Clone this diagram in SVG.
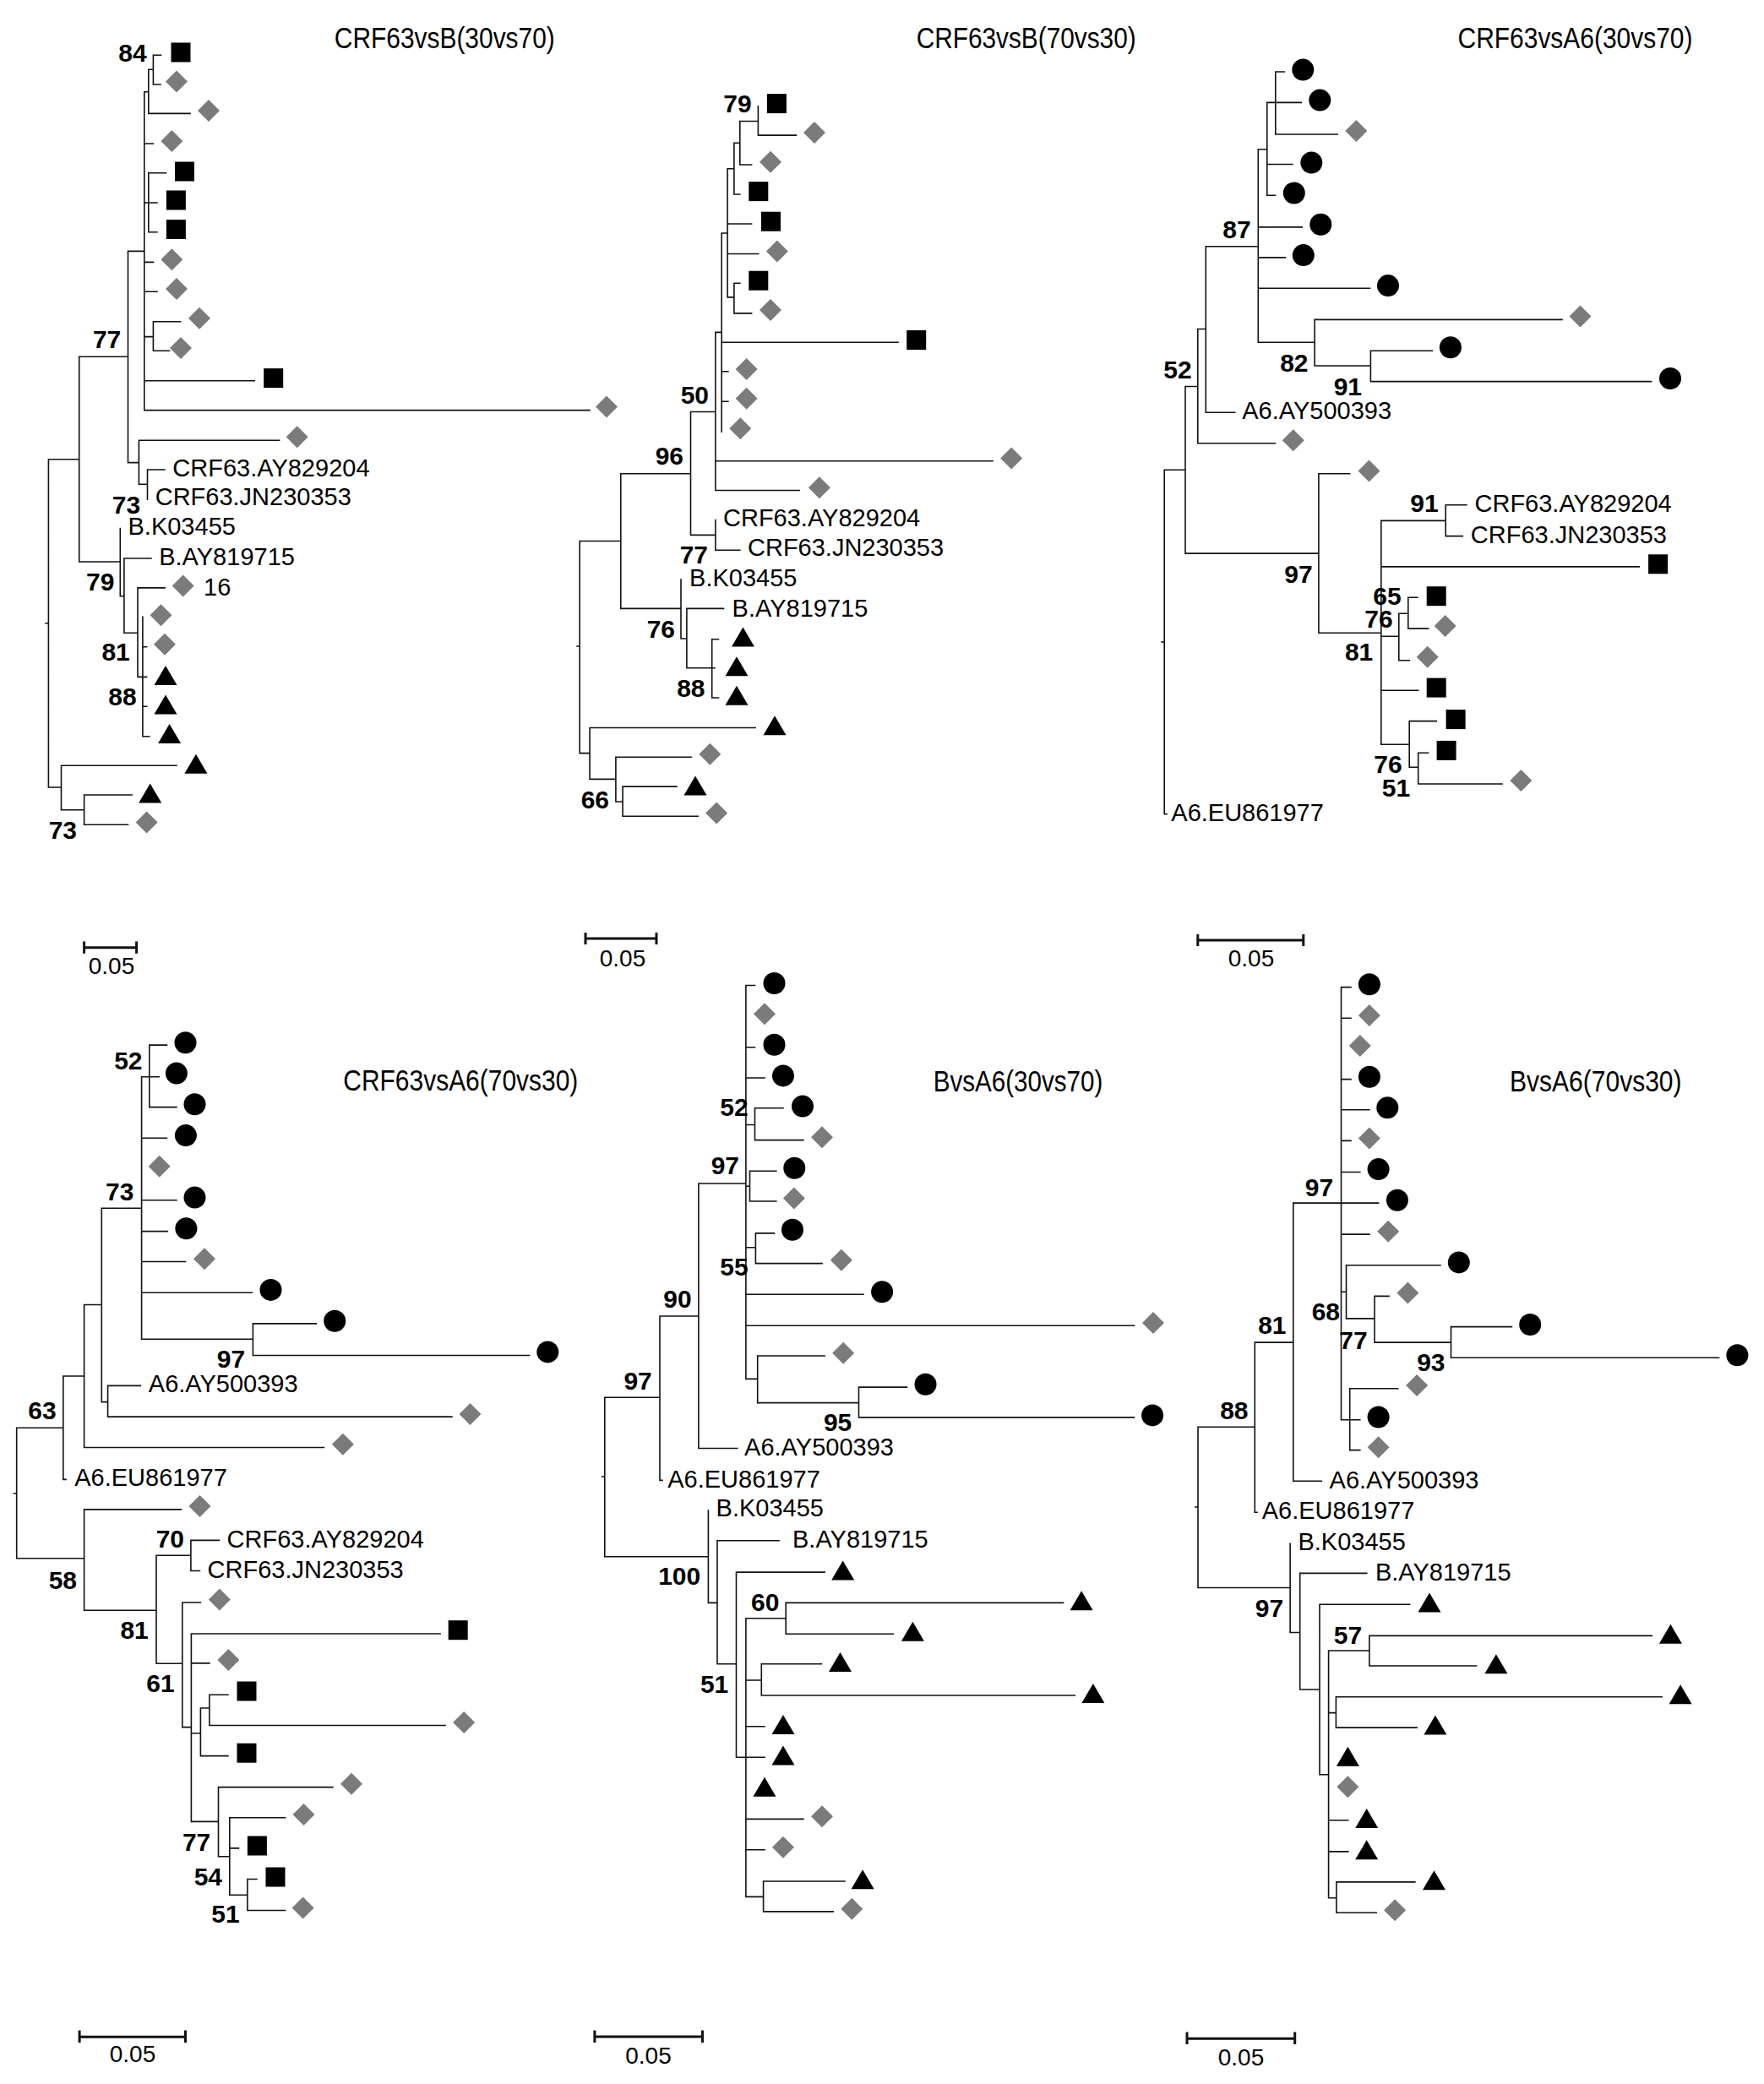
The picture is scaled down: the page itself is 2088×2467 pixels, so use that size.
<svg xmlns="http://www.w3.org/2000/svg" width="2088" height="2467" viewBox="0 0 2088 2467">
<defs>
<style>
.br{fill:none;stroke:#111;stroke-width:1.6;stroke-linecap:square}
.sb{fill:none;stroke:#111;stroke-width:3}
.tx{font-family:"Liberation Sans",Arial,sans-serif;font-size:29px;fill:#000}
.bs{font-family:"Liberation Sans",Arial,sans-serif;font-size:30px;font-weight:bold;fill:#000;text-anchor:end}
.ti{font-family:"Liberation Sans",Arial,sans-serif;font-size:35px;fill:#000}
.sc{font-family:"Liberation Sans",Arial,sans-serif;font-size:28px;fill:#000;text-anchor:middle}
</style>
<rect id="sq" x="-11.5" y="-11.5" width="23" height="23" fill="#000"/>
<path id="di" d="M0 -13L13 0L0 13L-13 0Z" fill="#7b7b7b"/>
<circle id="ci" r="13" fill="#000"/>
<path id="tr" d="M0 -11.5L13.5 11.5L-13.5 11.5Z" fill="#000"/>
</defs>
<rect width="2088" height="2467" fill="#fff"/>

<g id="panel1">
<g id="p1-connectors">
<path class="br" d="M54 737.8H57.4M57.4 543.7V932M57.4 543.7H93.7M93.7 422.3V665M93.7 422.3H151.5M151.5 297.4V547.6M151.5 297.4H170.8M170.8 108.7V485.6M170.8 108.7H175.8M175.8 82.2V134.4M175.8 82.2H181.4M181.4 65.2V100M181.4 65.2H190.5M181.4 100H190M175.8 134.4H225M170.8 170H181.4M170.8 240H175.8M175.8 204.8V274.8M175.8 204.8H196.5M175.8 240H186M175.8 274.8H186M170.8 310.4H181.4M170.8 345.2H186M170.8 398.6H181.4M181.4 380.8V415.2M181.4 380.8H213.5M181.4 415.2H200.6M170.8 450.8H301.2M170.8 485.6H698M151.5 547.6H164.4M164.4 521.2V573.3M164.4 521.2H330.6M164.4 573.3H174.5M174.5 556V591.1M174.5 556H195M93.7 665H142.3M142.3 625.5V705.7M142.3 705.7H146.9M146.9 661V749.2M146.9 661H179M146.9 749.2H163M163 695.9V801.4M163 695.9H195.1M163 801.4H173.6M168.9 730.3V871.8M168.9 765.8H173.6M168.9 836.2H173.6M168.9 871.8H176.8M57.4 932H72.5M72.5 906.2V958.8M72.5 906.2H209M72.5 958.8H99.6M99.6 941V976.2M99.6 941H156.1M99.6 976.2H151.5"/>
<path class="sb" d="M99.6 1121.7H161.6M99.6 1114.6V1128.8M161.6 1114.6V1128.8"/>
</g>
<g id="p1-leaves">
<use id="p1-n1" href="#sq" x="214" y="62"/>
<use id="p1-n2" href="#di" x="209" y="96.5"/>
<use id="p1-n3" href="#di" x="247" y="131"/>
<use id="p1-n4" href="#di" x="203.4" y="166.9"/>
<use id="p1-n5" href="#sq" x="218.5" y="203"/>
<use id="p1-n6" href="#sq" x="208.4" y="237"/>
<use id="p1-n7" href="#sq" x="208.4" y="271.5"/>
<use id="p1-n8" href="#di" x="203.4" y="307.2"/>
<use id="p1-n9" href="#di" x="209" y="342"/>
<use id="p1-n10" href="#di" x="236" y="376.8"/>
<use id="p1-n11" href="#di" x="214" y="412"/>
<use id="p1-n12" href="#sq" x="323.7" y="447.6"/>
<use id="p1-n13" href="#di" x="718" y="481.5"/>
<use id="p1-n14" href="#di" x="351.7" y="517.2"/>
<use id="p1-n15" href="#di" x="216.7" y="693.5"/>
<use id="p1-n16" href="#di" x="190.5" y="728.3"/>
<use id="p1-n17" href="#di" x="195" y="762.7"/>
<use id="p1-n18" href="#tr" x="196" y="799.5"/>
<use id="p1-n19" href="#tr" x="196" y="834"/>
<use id="p1-n20" href="#tr" x="200.6" y="868.6"/>
<use id="p1-n21" href="#tr" x="231.9" y="904.2"/>
<use id="p1-n22" href="#tr" x="177.7" y="939"/>
<use id="p1-n23" href="#di" x="173.6" y="973.4"/>
</g>
<g id="p1-labels">
<text class="ti" x="395.8" y="56.5" textLength="261" lengthAdjust="spacingAndGlyphs">CRF63vsB(30vs70)</text>
<text class="tx" x="204.3" y="563.5">CRF63.AY829204</text>
<text class="tx" x="183.7" y="597.9">CRF63.JN230353</text>
<text class="tx" x="151.5" y="633.4">B.K03455</text>
<text class="tx" x="188.2" y="669">B.AY819715</text>
<text class="tx" x="241" y="704.5">16</text>
<text class="bs" x="173.6" y="73">84</text>
<text class="bs" x="143.3" y="412.4">77</text>
<text class="bs" x="166.2" y="607.5">73</text>
<text class="bs" x="135.4" y="698.6">79</text>
<text class="bs" x="153.8" y="782.4">81</text>
<text class="bs" x="161.6" y="835">88</text>
<text class="bs" x="91" y="993">73</text>
<text class="sc" x="132" y="1153">0.05</text>
</g>
</g>

<g id="panel2">
<g id="p2-connectors">
<path class="br" d="M683 765H686.2M686.2 640.5V891.6M686.2 640.5H734.8M734.8 560.7V720.4M734.8 560.7H817.5M817.5 487.5V633.4M817.5 487.5H846.9M846.9 393.4V580.5M846.9 393.4H854.2M854.2 276V511.3M854.2 276H861.1M861.1 199.7V351.9M861.1 199.7H868.9M868.9 169.2V230M868.9 169.2H875.8M875.8 143.5V195M875.8 143.5H897.4M897.4 125.7V160.1M897.4 160.1H942.4M875.8 195H889.6M868.9 230H875.8M861.1 265H889.6M861.1 300.5H897.8M861.1 351.9H868.9M868.9 335.3V370.9M868.9 335.3H875.8M868.9 370.9H889.6M854.2 405.3H1063.1M854.2 439.7H861.9M854.2 475.3H861.9M846.9 545.7H1175.1M846.9 580.5H946.3M817.5 633.4H846.9M846.9 615.6V651.2M846.9 651.2H875.8M734.8 720.4H806M806 686V756M806 756H812.9M812.9 720.4V790.8M812.9 720.4H856.5M812.9 790.8H846M842.7 756.7V826M842.7 756.7H850.5M842.7 826H850.5M686.2 891.6H698.1M698.1 861.5V922.4M698.1 861.5H894.2M698.1 922.4H728.9M728.9 896.3V949M728.9 896.3H818.4M728.9 949H737.1M737.1 931.1V966.3M737.1 931.1H801M737.1 966.3H826.2"/>
<path class="sb" d="M693 1111H777M693 1104V1118M777 1104V1118"/>
</g>
<g id="p2-leaves">
<use id="p2-n1" href="#sq" x="919.4" y="122.6"/>
<use id="p2-n2" href="#di" x="964" y="157"/>
<use id="p2-n3" href="#di" x="912" y="191.8"/>
<use id="p2-n4" href="#sq" x="897.8" y="226.6"/>
<use id="p2-n5" href="#sq" x="912.5" y="262.2"/>
<use id="p2-n6" href="#di" x="919.9" y="297.4"/>
<use id="p2-n7" href="#sq" x="897.8" y="332.2"/>
<use id="p2-n8" href="#di" x="912" y="367"/>
<use id="p2-n9" href="#sq" x="1084.7" y="402.5"/>
<use id="p2-n10" href="#di" x="883.6" y="437"/>
<use id="p2-n11" href="#di" x="883.6" y="471.7"/>
<use id="p2-n12" href="#di" x="876.3" y="507.3"/>
<use id="p2-n13" href="#di" x="1197.2" y="542.5"/>
<use id="p2-n14" href="#di" x="969.9" y="577.3"/>
<use id="p2-n15" href="#tr" x="879.5" y="754"/>
<use id="p2-n16" href="#tr" x="872" y="788.8"/>
<use id="p2-n17" href="#tr" x="872" y="823.2"/>
<use id="p2-n18" href="#tr" x="917" y="858.8"/>
<use id="p2-n19" href="#di" x="840.4" y="892.8"/>
<use id="p2-n20" href="#tr" x="823" y="930"/>
<use id="p2-n21" href="#di" x="848.2" y="962.4"/>
</g>
<g id="p2-labels">
<text class="ti" x="1084.7" y="56.5" textLength="260" lengthAdjust="spacingAndGlyphs">CRF63vsB(70vs30)</text>
<text class="tx" x="856" y="622.7">CRF63.AY829204</text>
<text class="tx" x="885" y="657.9">CRF63.JN230353</text>
<text class="tx" x="816.1" y="693.9">B.K03455</text>
<text class="tx" x="866.6" y="729.5">B.AY819715</text>
<text class="bs" x="889.6" y="133.3">79</text>
<text class="bs" x="839" y="478.4">50</text>
<text class="bs" x="809" y="550.4">96</text>
<text class="bs" x="838" y="667">77</text>
<text class="bs" x="799" y="755.2">76</text>
<text class="bs" x="834.5" y="825">88</text>
<text class="bs" x="721" y="956.8">66</text>
<text class="sc" x="737" y="1143.5">0.05</text>
</g>
</g>

<g id="panel3">
<g id="p3-connectors">
<path class="br" d="M1375 760H1378.2M1378.2 556.3V963.6M1378.2 963.6H1381M1378.2 556.3H1403M1403 457.5V655.1M1403 457.5H1417.8M1417.8 389.5V524.7M1417.8 389.5H1427.3M1427.3 291.8V488.3M1427.3 291.8H1489.3M1489.3 176.7V405.3M1489.3 176.7H1499.8M1499.8 121.4V231.3M1499.8 121.4H1540.4M1509.8 85V159M1509.8 85H1520.3M1509.8 159H1583.3M1499.8 194.5H1529.9M1499.8 231.3H1509.4M1489.3 268.9H1541.3M1489.3 304.9H1521.3M1489.3 341.2H1621.5M1489.3 405.3H1556.1M1556.1 378.4V433M1556.1 378.4H1849M1556.1 433H1622.4M1622.4 415.2V451.6M1622.4 415.2H1695.4M1622.4 451.6H1954.5M1427.3 488.3H1461.7M1417.8 524.7H1509.4M1403 655.1H1560.9M1560.9 560.7V749.2M1560.9 560.7H1597.6M1560.9 749.2H1634.8M1634.8 616.4V881.3M1634.8 616.4H1711.2M1711.2 597.8V634.6M1711.2 597.8H1736M1711.2 634.6H1731.2M1634.8 670.9H1940.2M1634.8 753.2H1655.8M1655.8 726.3V781.7M1655.8 726.3H1666.8M1666.8 707.3V744.1M1666.8 707.3H1677.8M1666.8 744.1H1690.7M1655.8 781.7H1668.3M1634.8 817.2H1678.7M1634.8 881.3H1668.2M1668.2 853.6V908.2M1668.2 853.6H1700.2M1668.2 908.2H1678.7M1678.7 891.2V928M1678.7 891.2H1690.7M1678.7 928H1778"/>
<path class="sb" d="M1417.8 1113H1542.8M1417.8 1106V1120M1542.8 1106V1120"/>
</g>
<g id="p3-leaves">
<use id="p3-n1" href="#ci" x="1542.3" y="82.6"/>
<use id="p3-n2" href="#ci" x="1562.3" y="118.6"/>
<use id="p3-n3" href="#di" x="1605.3" y="155"/>
<use id="p3-n4" href="#ci" x="1552.3" y="192.6"/>
<use id="p3-n5" href="#ci" x="1531.8" y="228.5"/>
<use id="p3-n6" href="#ci" x="1563.3" y="265.7"/>
<use id="p3-n7" href="#ci" x="1542.8" y="302.1"/>
<use id="p3-n8" href="#ci" x="1643" y="338.1"/>
<use id="p3-n9" href="#di" x="1870.5" y="374.5"/>
<use id="p3-n10" href="#ci" x="1716.9" y="411.2"/>
<use id="p3-n11" href="#ci" x="1977" y="448"/>
<use id="p3-n12" href="#di" x="1530.8" y="521.2"/>
<use id="p3-n13" href="#di" x="1620.5" y="557.5"/>
<use id="p3-n14" href="#sq" x="1962.6" y="667.8"/>
<use id="p3-n15" href="#sq" x="1700.2" y="705.7"/>
<use id="p3-n16" href="#di" x="1710.7" y="740.9"/>
<use id="p3-n17" href="#di" x="1689.7" y="777.7"/>
<use id="p3-n18" href="#sq" x="1700.2" y="814.1"/>
<use id="p3-n19" href="#sq" x="1723.1" y="851.6"/>
<use id="p3-n20" href="#sq" x="1712.1" y="888.4"/>
<use id="p3-n21" href="#di" x="1800.4" y="924"/>
</g>
<g id="p3-labels">
<text class="ti" x="1725.5" y="56.5" textLength="278" lengthAdjust="spacingAndGlyphs">CRF63vsA6(30vs70)</text>
<text class="tx" x="1470.2" y="495.5">A6.AY500393</text>
<text class="tx" x="1745.5" y="605.7">CRF63.AY829204</text>
<text class="tx" x="1740.8" y="642.5">CRF63.JN230353</text>
<text class="tx" x="1386.3" y="971.5">A6.EU861977</text>
<text class="bs" x="1480.7" y="281.5">87</text>
<text class="bs" x="1548.5" y="439.7">82</text>
<text class="bs" x="1612" y="467.8">91</text>
<text class="bs" x="1410.6" y="447.6">52</text>
<text class="bs" x="1553.7" y="689.5">97</text>
<text class="bs" x="1702.6" y="605.7">91</text>
<text class="bs" x="1658.7" y="715.6">65</text>
<text class="bs" x="1648.7" y="742.9">76</text>
<text class="bs" x="1625.3" y="782.4">81</text>
<text class="bs" x="1659.7" y="915.3">76</text>
<text class="bs" x="1669.2" y="943">51</text>
<text class="sc" x="1481" y="1143.5">0.05</text>
</g>
</g>

<g id="panel4">
<g id="p4-connectors">
<path class="br" d="M16.5 1767.8H19.7M19.7 1690.2V1844.7M19.7 1690.2H74.8M74.8 1629V1751.4M74.8 1751.4H78M74.8 1629H99.6M99.6 1544.5V1713.5M99.6 1713.5H383.4M99.6 1544.5H120.3M120.3 1430.2V1659.6M120.3 1659.6H127.6M127.6 1640.4V1677.1M127.6 1640.4H166.2M127.6 1677.1H534.9M120.3 1430.2H167.6M167.6 1274.7V1585.3M167.6 1274.7H188.2M176.8 1237.1V1310.6M176.8 1237.1H197.4M176.8 1310.6H208.9M167.6 1347.3H197.4M167.6 1420.8H208.9M167.6 1457.6H198.3M167.6 1493.5H219.5M167.6 1530.2H298.4M167.6 1585.3H299.4M299.4 1566.9V1604.5M299.4 1566.9H374.2M299.4 1604.5H626.7M19.7 1844.7H99.6M99.6 1786.9V1906.3M99.6 1786.9H214.4M99.6 1906.3H185M185 1841.3V1969.3M185 1841.3H225.9M225.9 1823.4V1859.5M225.9 1823.4H259.4M225.9 1859.5H236.5M185 1969.3H215.8M215.8 1897V2044.6M215.8 1897H237.4M215.8 2044.6H226.4M226.4 1934V2156.4M226.4 1934H521.1M226.4 1968.9H247.9M226.4 2051.8H237.4M237.4 2022V2078.6M237.4 2022H247.9M247.9 2006.3V2042.5M247.9 2006.3H270M247.9 2042.5H527.1M237.4 2078.6H270M226.4 2156.4H258.5M258.5 2115.6V2197.7M258.5 2115.6H393.9M258.5 2197.7H271.8M271.8 2151.8V2243.2M271.8 2151.8H337.5M271.8 2187.9H282.4M271.8 2243.2H292.9M292.9 2224.5V2261.5M292.9 2224.5H304M292.9 2261.5H337.5"/>
<path class="sb" d="M94.1 2411.2H219.5M94.1 2403.5V2418M219.5 2403.5V2418"/>
</g>
<g id="p4-leaves">
<use id="p4-n1" href="#ci" x="219.5" y="1234.3"/>
<use id="p4-n2" href="#ci" x="208.9" y="1270.6"/>
<use id="p4-n3" href="#ci" x="230.5" y="1307.3"/>
<use id="p4-n4" href="#ci" x="219.9" y="1344.1"/>
<use id="p4-n5" href="#di" x="188.7" y="1380.8"/>
<use id="p4-n6" href="#ci" x="230.5" y="1417.6"/>
<use id="p4-n7" href="#ci" x="220.4" y="1454.3"/>
<use id="p4-n8" href="#di" x="242" y="1490.2"/>
<use id="p4-n9" href="#ci" x="320.5" y="1526.9"/>
<use id="p4-n10" href="#ci" x="396.2" y="1563.7"/>
<use id="p4-n11" href="#ci" x="648.3" y="1600.4"/>
<use id="p4-n12" href="#di" x="556.5" y="1673.9"/>
<use id="p4-n13" href="#di" x="405.9" y="1709.8"/>
<use id="p4-n14" href="#di" x="236.5" y="1782.9"/>
<use id="p4-n15" href="#di" x="259.9" y="1893.6"/>
<use id="p4-n16" href="#sq" x="542.2" y="1929.7"/>
<use id="p4-n17" href="#di" x="270.4" y="1965"/>
<use id="p4-n18" href="#sq" x="292" y="2002"/>
<use id="p4-n19" href="#di" x="549.1" y="2039"/>
<use id="p4-n20" href="#sq" x="292" y="2075.2"/>
<use id="p4-n21" href="#di" x="416" y="2111.8"/>
<use id="p4-n22" href="#di" x="359.5" y="2148"/>
<use id="p4-n23" href="#sq" x="304.4" y="2185"/>
<use id="p4-n24" href="#sq" x="326" y="2222"/>
<use id="p4-n25" href="#di" x="358.6" y="2258.5"/>
</g>
<g id="p4-labels">
<text class="ti" x="406.3" y="1291" textLength="278" lengthAdjust="spacingAndGlyphs">CRF63vsA6(70vs30)</text>
<text class="tx" x="175.8" y="1648.2">A6.AY500393</text>
<text class="tx" x="88.2" y="1758.8">A6.EU861977</text>
<text class="tx" x="268.6" y="1831.9">CRF63.AY829204</text>
<text class="tx" x="245.6" y="1868">CRF63.JN230353</text>
<text class="bs" x="168.5" y="1265.7">52</text>
<text class="bs" x="158.4" y="1420.8">73</text>
<text class="bs" x="290.2" y="1618.8">97</text>
<text class="bs" x="66.6" y="1680">63</text>
<text class="bs" x="91" y="1880.8">58</text>
<text class="bs" x="218" y="1831.9">70</text>
<text class="bs" x="175.8" y="1940.4">81</text>
<text class="bs" x="206.6" y="2003.3">61</text>
<text class="bs" x="249.3" y="2190.5">77</text>
<text class="bs" x="263" y="2231.7">54</text>
<text class="bs" x="283.7" y="2276.4">51</text>
<text class="sc" x="157" y="2441">0.05</text>
</g>
</g>

<g id="panel5">
<g id="p5-connectors">
<path class="br" d="M712.6 1748H715.8M715.8 1654.3V1842.7M715.8 1654.3H781M781 1558V1752.4M781 1752.4H784M781 1558H826.9M826.9 1401V1714.5M826.9 1714.5H872.8M826.9 1401H882.9M882.9 1166.5V1632.4M882.9 1166.5H893.5M882.9 1239.7H893.5M882.9 1276H905M882.9 1331.5H893.5M893.5 1311.7V1349.6M893.5 1311.7H927M893.5 1349.6H950.9M882.9 1404.3H887.5M887.5 1386.2V1422M887.5 1386.2H918.8M887.5 1422H918.8M882.9 1476.7H894.4M894.4 1459.9V1495.6M894.4 1459.9H916.5M894.4 1495.6H973M882.9 1532.3H1022M882.9 1569.3H1342.5M882.9 1632.4H896.7M896.7 1605V1660.6M896.7 1605H976.1M896.7 1660.6H1016.5M1016.5 1642.1V1677.9M1016.5 1642.1H1073.5M1016.5 1677.9H1342.5M715.8 1842.7H838.4M838.4 1788V1897.4M838.4 1897.4H849M849 1823.8V1969.7M849 1823.8H922M849 1969.7H871.5M871.5 1861.1V2080.2M871.5 1861.1H976.1M871.5 2080.2H882.9M882.9 1915.8V2245.4M882.9 1915.8H930.2M930.2 1897.4V1934.3M930.2 1897.4H1258.5M930.2 1934.3H1057.4M882.9 1989H901.3M901.3 1969.7V2007M901.3 1969.7H972.5M901.3 2007H1272.3M882.9 2043.8H905M882.9 2080.2H905M882.9 2153.4H950.9M882.9 2189.7H905M882.9 2245.4H903.6M903.6 2227V2262.9M903.6 2227H1000M903.6 2262.9H986.2"/>
<path class="sb" d="M703.9 2411H831.5M703.9 2403.5V2418M831.5 2403.5V2418"/>
</g>
<g id="p5-leaves">
<use id="p5-n1" href="#ci" x="916.5" y="1164"/>
<use id="p5-n2" href="#di" x="905" y="1200.2"/>
<use id="p5-n3" href="#ci" x="916.5" y="1236.8"/>
<use id="p5-n4" href="#ci" x="927" y="1273.4"/>
<use id="p5-n5" href="#ci" x="950" y="1309.6"/>
<use id="p5-n6" href="#di" x="973" y="1346.2"/>
<use id="p5-n7" href="#ci" x="940.3" y="1382.8"/>
<use id="p5-n8" href="#di" x="939.9" y="1418.6"/>
<use id="p5-n9" href="#ci" x="938" y="1455.7"/>
<use id="p5-n10" href="#di" x="995.9" y="1491.8"/>
<use id="p5-n11" href="#ci" x="1044.1" y="1529.3"/>
<use id="p5-n12" href="#di" x="1365" y="1565.9"/>
<use id="p5-n13" href="#di" x="998.2" y="1601.7"/>
<use id="p5-n14" href="#ci" x="1095.5" y="1638.7"/>
<use id="p5-n15" href="#ci" x="1364.1" y="1675.4"/>
<use id="p5-n16" href="#tr" x="997.7" y="1858.9"/>
<use id="p5-n17" href="#tr" x="1280.1" y="1894.8"/>
<use id="p5-n18" href="#tr" x="1080.4" y="1931.2"/>
<use id="p5-n19" href="#tr" x="994.5" y="1967.6"/>
<use id="p5-n20" href="#tr" x="1293.9" y="2004.4"/>
<use id="p5-n21" href="#tr" x="927" y="2041.6"/>
<use id="p5-n22" href="#tr" x="927" y="2078"/>
<use id="p5-n23" href="#tr" x="905" y="2115.2"/>
<use id="p5-n24" href="#di" x="973" y="2150.3"/>
<use id="p5-n25" href="#di" x="927" y="2186.7"/>
<use id="p5-n26" href="#tr" x="1021.1" y="2224.8"/>
<use id="p5-n27" href="#di" x="1008.3" y="2259.8"/>
</g>
<g id="p5-labels">
<text class="ti" x="1104.7" y="1291.5" textLength="200.6" lengthAdjust="spacingAndGlyphs">BvsA6(30vs70)</text>
<text class="tx" x="881.1" y="1722.9">A6.AY500393</text>
<text class="tx" x="790.2" y="1760.8">A6.EU861977</text>
<text class="tx" x="847.6" y="1795.3">B.K03455</text>
<text class="tx" x="938" y="1831.7">B.AY819715</text>
<text class="bs" x="885.7" y="1321">52</text>
<text class="bs" x="875" y="1390.4">97</text>
<text class="bs" x="885.7" y="1510.4">55</text>
<text class="bs" x="818.7" y="1548.2">90</text>
<text class="bs" x="1008.3" y="1693.5">95</text>
<text class="bs" x="771.8" y="1645">97</text>
<text class="bs" x="829.2" y="1876.4">100</text>
<text class="bs" x="922.4" y="1907.1">60</text>
<text class="bs" x="862.3" y="2004.4">51</text>
<text class="sc" x="767.5" y="2442.6">0.05</text>
</g>
</g>

<g id="panel6">
<g id="p6-connectors">
<path class="br" d="M1414.8 1784H1418M1418 1689.2V1879.5M1418 1689.2H1485.3M1485.3 1589.1V1790.3M1485.3 1790.3H1488M1485.3 1589.1H1530.8M1530.8 1424.1V1753.2M1530.8 1753.2H1564.3M1530.8 1424.1H1631.6M1587.5 1168.6V1680.8M1587.5 1168.6H1599M1587.5 1205.2H1599M1587.5 1277.6H1599M1587.5 1313.8H1620.9M1587.5 1350.4H1599M1587.5 1387.5H1609.8M1587.5 1461.1H1620.9M1587.5 1529.3H1593.5M1593.5 1497.7V1560.9M1593.5 1497.7H1705M1593.5 1560.9H1627M1627 1534.4V1589.1M1627 1534.4H1644.1M1627 1589.1H1717.5M1717.5 1570.6V1607.2M1717.5 1570.6H1789.4M1717.5 1607.2H2034.6M1587.5 1680.8H1597.7M1597.7 1643.8V1716.6M1597.7 1643.8H1654.8M1597.7 1680.8H1609.8M1597.7 1716.6H1609.8M1418 1879.5H1527.1M1527.1 1827.3V1932.5M1527.1 1932.5H1538.7M1538.7 1862.4V2000M1538.7 1862.4H1617.7M1538.7 2000H1562M1562 1899.2V2100.8M1562 1899.2H1668.7M1562 2100.8H1572.6M1572.6 1954V2246.7M1572.6 1954H1620.9M1620.9 1936.4V1972M1620.9 1936.4H1955.2M1620.9 1972H1747.6M1572.6 2027.6H1581.4M1581.4 2008.7V2045.1M1581.4 2008.7H1967.2M1581.4 2045.1H1677.1M1572.6 2154.7H1595.8M1572.6 2191.9H1595.8M1572.6 2246.7H1581.9M1581.9 2227.9V2264.2M1581.9 2227.9H1674.8M1581.9 2264.2H1629.3"/>
<path class="sb" d="M1405 2413.2H1532.7M1405 2405.5V2420M1532.7 2405.5V2420"/>
</g>
<g id="p6-leaves">
<use id="p6-n1" href="#ci" x="1620.9" y="1165.3"/>
<use id="p6-n2" href="#di" x="1620.9" y="1201.9"/>
<use id="p6-n3" href="#di" x="1609.8" y="1238"/>
<use id="p6-n4" href="#ci" x="1620.9" y="1274.7"/>
<use id="p6-n5" href="#ci" x="1642.3" y="1311.3"/>
<use id="p6-n6" href="#di" x="1620.9" y="1347.5"/>
<use id="p6-n7" href="#ci" x="1631.6" y="1384.1"/>
<use id="p6-n8" href="#ci" x="1653.9" y="1420.7"/>
<use id="p6-n9" href="#di" x="1643.2" y="1457.8"/>
<use id="p6-n10" href="#ci" x="1726.8" y="1494.4"/>
<use id="p6-n11" href="#di" x="1666.4" y="1530.6"/>
<use id="p6-n12" href="#ci" x="1811.2" y="1568"/>
<use id="p6-n13" href="#ci" x="2056.4" y="1604.2"/>
<use id="p6-n14" href="#di" x="1677.1" y="1640"/>
<use id="p6-n15" href="#ci" x="1631.6" y="1677.5"/>
<use id="p6-n16" href="#di" x="1631.6" y="1713.2"/>
<use id="p6-n17" href="#tr" x="1692" y="1897"/>
<use id="p6-n18" href="#tr" x="1977.4" y="1934.2"/>
<use id="p6-n19" href="#tr" x="1770.9" y="1969.7"/>
<use id="p6-n20" href="#tr" x="1989.1" y="2005.7"/>
<use id="p6-n21" href="#tr" x="1698.9" y="2042"/>
<use id="p6-n22" href="#tr" x="1595.4" y="2079.3"/>
<use id="p6-n23" href="#di" x="1595.4" y="2115.2"/>
<use id="p6-n24" href="#tr" x="1617.7" y="2152.5"/>
<use id="p6-n25" href="#tr" x="1617.7" y="2189.7"/>
<use id="p6-n26" href="#tr" x="1697.5" y="2225.7"/>
<use id="p6-n27" href="#di" x="1651.1" y="2261.2"/>
</g>
<g id="p6-labels">
<text class="ti" x="1787.1" y="1291.5" textLength="203.4" lengthAdjust="spacingAndGlyphs">BvsA6(70vs30)</text>
<text class="tx" x="1573.6" y="1761.6">A6.AY500393</text>
<text class="tx" x="1493.7" y="1797.8">A6.EU861977</text>
<text class="tx" x="1536.4" y="1834.8">B.K03455</text>
<text class="tx" x="1627.9" y="1871.1">B.AY819715</text>
<text class="bs" x="1578.2" y="1415.7">97</text>
<text class="bs" x="1586" y="1563">68</text>
<text class="bs" x="1618.6" y="1596.6">77</text>
<text class="bs" x="1710.5" y="1623.2">93</text>
<text class="bs" x="1522.5" y="1579">81</text>
<text class="bs" x="1477.5" y="1679.6">88</text>
<text class="bs" x="1519.2" y="1913.7">97</text>
<text class="bs" x="1612.1" y="1945.6">57</text>
<text class="sc" x="1469" y="2445">0.05</text>
</g>
</g>
</svg>
